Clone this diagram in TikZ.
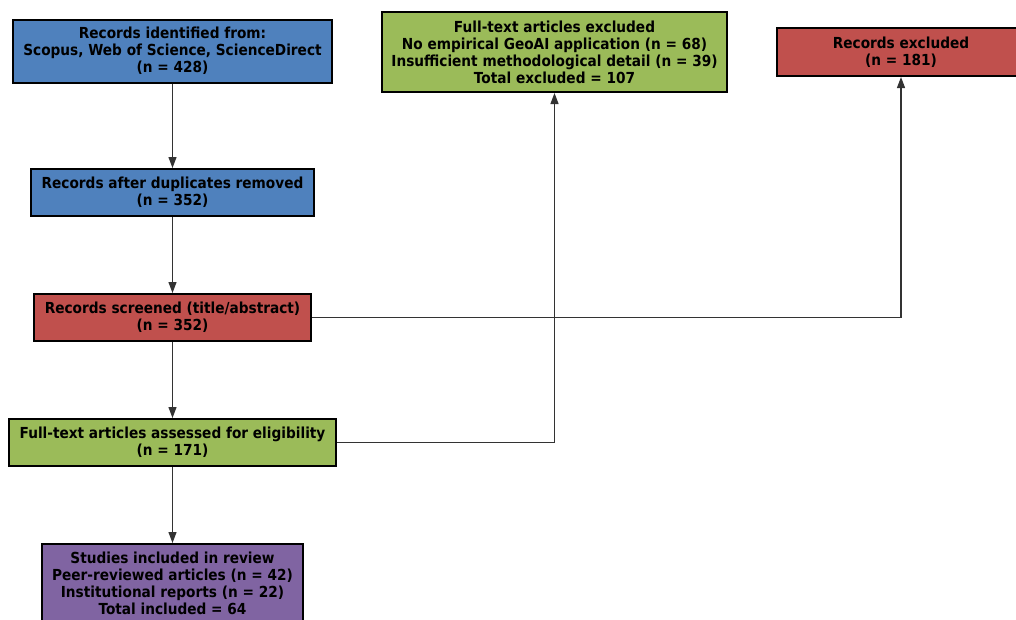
\documentclass[tikz,border=0pt]{standalone}
\usepackage{fontspec}
\setmainfont{DejaVu Sans}
\newfontfamily\boxfont{DejaVu Sans}[FakeStretch=0.9]
\usetikzlibrary{arrows.meta}
\definecolor{idblue}{HTML}{4F81BD}
\definecolor{exred}{HTML}{C0504D}
\definecolor{elgreen}{HTML}{9BBB59}
\definecolor{incpurple}{HTML}{8064A2}
\begin{document}
\begin{tikzpicture}[x=1pt,y=-1pt,
  box/.style={draw=black, line width=2pt, inner sep=0pt, align=center,
    font=\boxfont\bfseries\fontsize{15.2}{17}\selectfont, text=black},
  link/.style={draw=black!80, line width=1.2pt},
  flow/.style={link, -{Triangle[length=11pt,width=8pt]}}]
\useasboundingbox (0,0) rectangle (1016,619);
\clip (0,0) rectangle (1016,619);

% main column
\node[box, fill=idblue, minimum width=319pt, minimum height=63pt] (ident) at (172.5,51)
  {Records identified from:\\Scopus, Web of Science, ScienceDirect\\(n = 428)};
\node[box, fill=idblue, minimum width=283pt, minimum height=47pt] (dedup) at (172.5,192.5)
  {Records after duplicates removed\\(n = 352)};
\node[box, fill=exred, minimum width=277pt, minimum height=47pt] (screen) at (172.5,317.5)
  {Records screened (title/abstract)\\(n = 352)};
\node[box, fill=elgreen, minimum width=327pt, minimum height=47pt] (full) at (172.5,442.5)
  {Full-text articles assessed for eligibility\\(n = 171)};
\node[box, fill=incpurple, minimum width=261pt, minimum height=79pt] (incl) at (172.5,583.5)
  {Studies included in review\\Peer-reviewed articles (n = 42)\\Institutional reports (n = 22)\\Total included = 64};

% exclusion boxes
\node[box, fill=elgreen, minimum width=345pt, minimum height=80pt] (ftexcl) at (554.5,52)
  {Full-text articles excluded\\No empirical GeoAI application (n = 68)\\Insufficient methodological detail (n = 39)\\Total excluded = 107};
\node[box, fill=exred, minimum width=248pt, minimum height=48pt] (recexcl) at (901,52)
  {Records excluded\\(n = 181)};

% connectors
\draw[flow] (ident) -- (dedup);
\draw[flow] (dedup) -- (screen);
\draw[flow] (screen) -- (full);
\draw[flow] (full) -- (incl);
\draw[flow] (screen.east) -| (recexcl.south);
\draw[flow] (full.east) -| (ftexcl.south);
\end{tikzpicture}
\end{document}
